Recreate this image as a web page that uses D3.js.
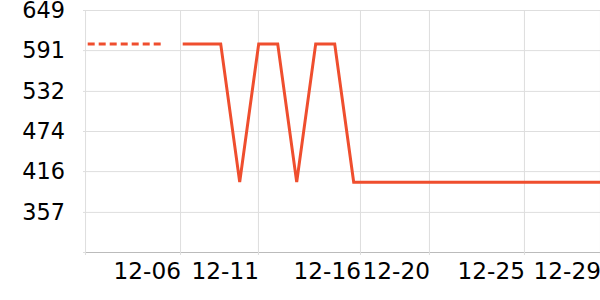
<!DOCTYPE html>
<html>
<head>
<meta charset="utf-8">
<script src="https://cdn.jsdelivr.net/npm/d3@7/dist/d3.min.js"></script>
<style>
  html, body { margin: 0; padding: 0; background: #fff; }
  svg { display: block; font-family: "DejaVu Sans", sans-serif; }
</style>
</head>
<body>
<div id="chart"></div>
<script>
// 数据：每天一个点，索引 0 = 12-02 ... 27 = 12-29
const days = d3.range(28);
// 虚线段（前几天）
const dashedValues = [600, 600, 600, 600, 600];
// 实线段（从第 5 个点开始）
const solidValues = [
    null, null, null, null, null,
    600, 600, 600, 400, 600, 600, 400, 600, 600, 400,
    400, 400, 400, 400, 400, 400, 400, 400, 400, 400, 400, 400, 400
];
// x 轴刻度位置（按天的索引）与标签
const xTickPos = [-0.14, 4.86, 8.96, 14.33, 17.96, 22.96, 26.96];
const xTickLabels = ['', '12-06', '12-11', '12-16', '12-20', '12-25', '12-29'];
// y 轴刻度
const yTicks = [299, 357, 416, 474, 532, 591, 649];
const yTickLabels = ['', '357', '416', '474', '532', '591', '649'];

const width = 600, height = 300;
const margin = { top: 10, right: 0, bottom: 48, left: 85 };
const lineColor = '#ef4e2e';

const svg = d3.select('#chart').append('svg')
    .attr('width', width)
    .attr('height', height);

const x = d3.scaleLinear()
    .domain([0, 27])
    .range([87.7, 600.7]);

const y = d3.scaleLinear()
    .domain([299, 649])
    .range([height - margin.bottom, margin.top]);

// 水平网格 + y 轴标签
const yAxis = svg.append('g')
    .attr('transform', `translate(${margin.left},0)`)
    .call(d3.axisLeft(y)
        .tickValues(yTicks)
        .tickSize(2)
        .tickPadding(18)
        .tickFormat((d, i) => yTickLabels[i]));
yAxis.select('.domain').remove();
yAxis.selectAll('.tick line')
    .attr('x1', -2)
    .attr('x2', width - margin.left)
    .attr('stroke', '#dedede');
yAxis.selectAll('.tick text')
    .attr('font-size', 22.4)
    .attr('font-family', '"DejaVu Sans", sans-serif')
    .attr('fill', '#000');

// 垂直网格 + x 轴
const xAxis = svg.append('g')
    .attr('transform', `translate(0,${height - margin.bottom})`)
    .call(d3.axisBottom(x)
        .tickValues(xTickPos)
        .tickSize(3)
        .tickPadding(8)
        .tickFormat((d, i) => xTickLabels[i]));
xAxis.select('.domain')
    .attr('stroke', '#bbb')
    .attr('d', `M${margin.left},0.5H${width}`);
xAxis.selectAll('.tick line')
    .attr('y1', -(height - margin.bottom - margin.top))
    .attr('y2', 3)
    .attr('stroke', '#dedede');
xAxis.selectAll('.tick text')
    .attr('font-size', 23.2)
    .attr('font-family', '"DejaVu Sans", sans-serif')
    .attr('fill', '#000')
    .attr('text-anchor', 'end')
    .attr('dx', '0.02em');

// 折线
const line = d3.line()
    .defined(d => d.v != null)
    .x(d => x(d.i))
    .y(d => y(d.v));

const dashedData = dashedValues.map((v, i) => ({ i: days[i], v }));
const solidData = solidValues.map((v, i) => ({ i: days[i], v }));

svg.append('path')
    .datum(dashedData)
    .attr('fill', 'none')
    .attr('stroke', lineColor)
    .attr('stroke-width', 3)
    .attr('stroke-dasharray', '7,4')
    .attr('d', line);

svg.append('path')
    .datum(solidData)
    .attr('fill', 'none')
    .attr('stroke', lineColor)
    .attr('stroke-width', 3)
    .attr('stroke-linejoin', 'miter')
    .attr('d', line);
</script>
</body>
</html>
